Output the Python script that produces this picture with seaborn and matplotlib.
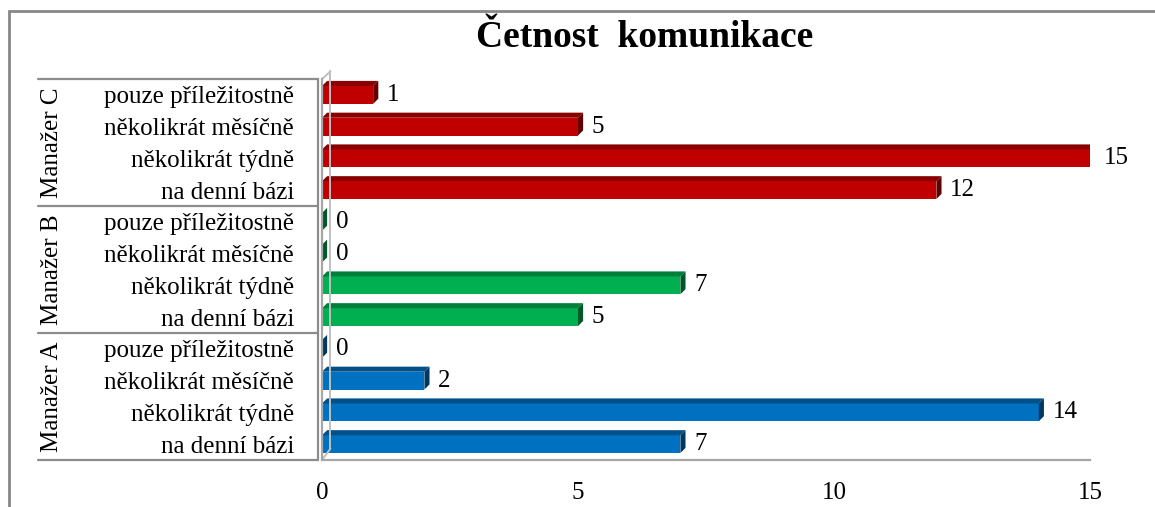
import matplotlib
matplotlib.use("Agg")
import matplotlib.pyplot as plt
import matplotlib.patches as mpatches
import matplotlib.colors as mcolors
import matplotlib.transforms as mtransforms
import seaborn as sns
import pandas as pd

# ---- data ----
title = "Četnost  komunikace"
managers = ["Manažer C", "Manažer B", "Manažer A"]          # top to bottom
frequencies = ["pouze příležitostně", "několikrát měsíčně",
               "několikrát týdně", "na denní bázi"]           # top to bottom in each group
values_C = [1, 5, 15, 12]
values_B = [0, 0, 7, 5]
values_A = [0, 2, 14, 7]
colors = {"Manažer C": "#C00000", "Manažer B": "#00B050", "Manažer A": "#0070C0"}
x_ticks = [0, 5, 10, 15]

rows = []
for m, vals in zip(managers, [values_C, values_B, values_A]):
    for f, v in zip(frequencies, vals):
        rows.append({"key": f"{m}|{f}", "manager": m, "freq": f, "value": v})
df = pd.DataFrame(rows)

sns.set_theme(style="white")
plt.rcParams["font.family"] = ["Liberation Serif", "DejaVu Serif"]
plt.rcParams["text.color"] = "black"
plt.rcParams["xtick.color"] = "black"
plt.rcParams["ytick.color"] = "black"

W, H = 1155, 507
fig = plt.figure(figsize=(W / 100, H / 100), dpi=100)
ax_left, ax_right, ax_top, ax_bot = 322, 1090, 79, 460
ax = fig.add_axes([ax_left / W, 1 - ax_bot / H, (ax_right - ax_left) / W, (ax_bot - ax_top) / H])

sns.barplot(data=df, y="key", x="value", hue="manager", palette=colors,
            order=df["key"].tolist(), dodge=False, width=0.56, legend=False,
            saturation=1, linewidth=0, ax=ax)

ax.set_xlim(0, 15)
ax.set_ylim(len(df) - 0.5, -0.5)

# pseudo-3D faces computed from each bar's geometry
dx, dy = 0.1, 0.16
for p in list(ax.patches):
    x0, y0 = p.get_x(), p.get_y()
    w, h = p.get_width(), p.get_height()
    if h == 0:
        continue
    p.set_edgecolor("none")
    base = mcolors.to_rgb(p.get_facecolor())
    dark = tuple(c * 0.72 for c in base)
    darker = tuple(c * 0.5 for c in base)
    top = mpatches.Polygon([(x0, y0), (x0 + w, y0), (x0 + w + dx, y0 - dy), (x0 + dx, y0 - dy)],
                           closed=True, facecolor=dark, edgecolor="none", zorder=p.get_zorder())
    side = mpatches.Polygon([(x0 + w, y0), (x0 + w + dx, y0 - dy), (x0 + w + dx, y0 + h - dy), (x0 + w, y0 + h)],
                            closed=True, facecolor=darker, edgecolor="none", zorder=p.get_zorder())
    ax.add_patch(top)
    ax.add_patch(side)

# value labels
for i, v in enumerate(df["value"]):
    ax.text(v + dx + 0.17, i, str(v), va="center", ha="left", fontsize=18, color="black")

ax.set_xticks(x_ticks)
ax.set_xticklabels([str(t) for t in x_ticks], fontsize=18)
ax.tick_params(axis="x", length=0, pad=16)
ax.set_yticks(range(len(df)))
ax.set_yticklabels(df["freq"].tolist(), fontsize=18)
ax.tick_params(axis="y", length=0, pad=20)
ax.set_xlabel("")
ax.set_ylabel("")

for s in ["top", "right"]:
    ax.spines[s].set_visible(False)
for s in ["left", "bottom"]:
    ax.spines[s].set_color("#A6A6A6")
    ax.spines[s].set_linewidth(1.6)

# back wall line
ax.plot([0.011, 0.011], [0.03, 1.02], transform=ax.transAxes, color="#BFBFBF", lw=1.4, clip_on=False)
ax.plot([0.0, 0.011], [1.0, 1.02], transform=ax.transAxes, color="#BFBFBF", lw=1.4, clip_on=False)
ax.plot([0.0, 0.011], [0.0, 0.03], transform=ax.transAxes, color="#BFBFBF", lw=1.4, clip_on=False)

# hierarchical category axis
trans = mtransforms.blended_transform_factory(ax.transAxes, ax.transData)
xl = (38 - ax_left) / (ax_right - ax_left)
xr = (318 - ax_left) / (ax_right - ax_left)
xm = (52 - ax_left) / (ax_right - ax_left)
n = len(frequencies)
bounds = [-0.5 + k * n for k in range(len(managers) + 1)]
for b in bounds:
    ax.plot([xl, xr], [b, b], transform=trans, color="#8C8C8C", lw=1.6, clip_on=False)
ax.plot([xr, xr], [bounds[0], bounds[-1]], transform=trans, color="#8C8C8C", lw=1.6, clip_on=False)
for k, m in enumerate(managers):
    ax.text(xm, (bounds[k] + bounds[k + 1]) / 2, m, transform=trans, rotation=90,
            ha="center", va="center", fontsize=18, color="black")

# title
fig.text(0.558, 1 - 38 / H, title, ha="center", va="center", fontsize=27, fontweight="bold", color="black")

# outer border
fig.patches.append(mpatches.Rectangle((9 / W, -0.05), 1.2, 1 - 11 / H + 0.05, transform=fig.transFigure,
                                      fill=False, edgecolor="#878787", lw=2))

fig.savefig("out.png", dpi=100)
